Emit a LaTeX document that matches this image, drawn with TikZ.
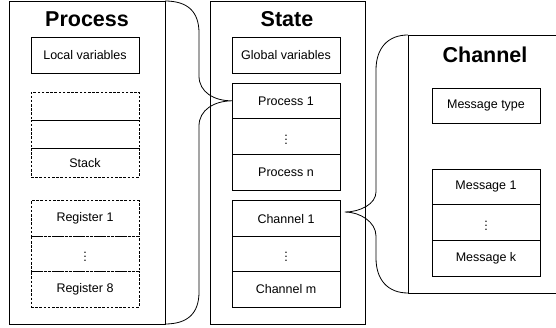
\documentclass[tikz,border=0pt]{standalone}
\usepackage{fontspec}
\setmainfont{Liberation Sans}
\usetikzlibrary{positioning, calc}
\tikzset{
  frame/.style={
    rectangle, draw, line width=0.9pt, outer sep=0pt, anchor=north west
  },
  title/.style={font=\bfseries\fontsize{21.5}{24}\selectfont},
  cell/.style={
    rectangle, draw, line width=0.8pt, outer sep=0pt, inner sep=0pt,
    minimum width=108pt, minimum height=35.4pt,
    font=\fontsize{12.5}{14}\selectfont
  },
  dcell/.style={cell, dash pattern=on 2.6pt off 1.6pt},
  brace/.style={line width=0.8pt, line join=round},
}

\begin{document}
\begin{tikzpicture}[x=1pt, y=-1pt]
  \useasboundingbox (0,0) rectangle (556,328);
  \clip (0,0) rectangle (556,328);

  % outer frames
  \node[frame, minimum width=156pt, minimum height=323pt] (proc)  at (9,1)    {};
  \node[frame, minimum width=155pt, minimum height=323pt] (state) at (210,1)  {};
  \node[frame, minimum width=160pt, minimum height=258pt] (chan)  at (408,35) {};

  \node[title] (proctitle)  at (87,19)  {Process};
  \node[title] (statetitle) at (287,19) {State};
  \node[title] (chantitle)  at (485,55) {Channel};

  % process contents
  \node[cell] (locvar) at (85,55.5) {Local variables};
  \node[dcell, minimum height=28.3pt] (stk1) at (85,106.2) {};
  \node[dcell, minimum height=28.3pt, below=0pt of stk1] (stk2) {};
  \node[dcell, minimum height=28.3pt, below=0pt of stk2] (stk3) {Stack};
  \node[dcell] (reg1) at (85,218.6) {Register 1};
  \node[dcell, below=0pt of reg1]    (regdots) {$\vdots$};
  \node[dcell, below=0pt of regdots] (reg8)    {Register 8};

  % state contents
  \node[cell] (globvar) at (286,55.5) {Global variables};
  \node[cell, minimum height=35.7pt] (p1) at (286,100.8) {Process 1};
  \node[cell, minimum height=35.7pt, below=0pt of p1]    (pdots) {$\vdots$};
  \node[cell, minimum height=35.7pt, below=0pt of pdots] (pn)    {Process n};
  \node[cell] (ch1) at (286,218.6) {Channel 1};
  \node[cell, below=0pt of ch1]    (chdots) {$\vdots$};
  \node[cell, below=0pt of chdots] (chm)    {Channel m};

  % channel contents
  \node[cell] (msgtype) at (486,106) {Message type};
  \node[cell, minimum height=35.7pt] (msg1) at (486,186.8) {Message 1};
  \node[cell, minimum height=35.7pt, below=0pt of msg1]    (msgdots) {$\vdots$};
  \node[cell, minimum height=35.7pt, below=0pt of msgdots] (msgk)    {Message k};

  % braces
  \coordinate (chtip) at (345,212);
  \draw[brace] (proc.north east) .. controls (188,1) and (199,12) .. (199,33)
    -- (199,76) .. controls (199,92) and (214,101) .. (p1.west)
    .. controls (214,101) and (199,110) .. (199,126)
    -- (199,292) .. controls (199,313) and (188,324) .. (proc.south east);
  \draw[brace] (chan.north west) .. controls (388,35) and (376,48) .. (376,70)
    -- (376,192) .. controls (376,204) and (360,212) .. (chtip)
    .. controls (360,212) and (376,222) .. (376,236)
    -- (376,258) .. controls (376,280) and (388,293) .. (chan.south west);

\end{tikzpicture}
\end{document}
